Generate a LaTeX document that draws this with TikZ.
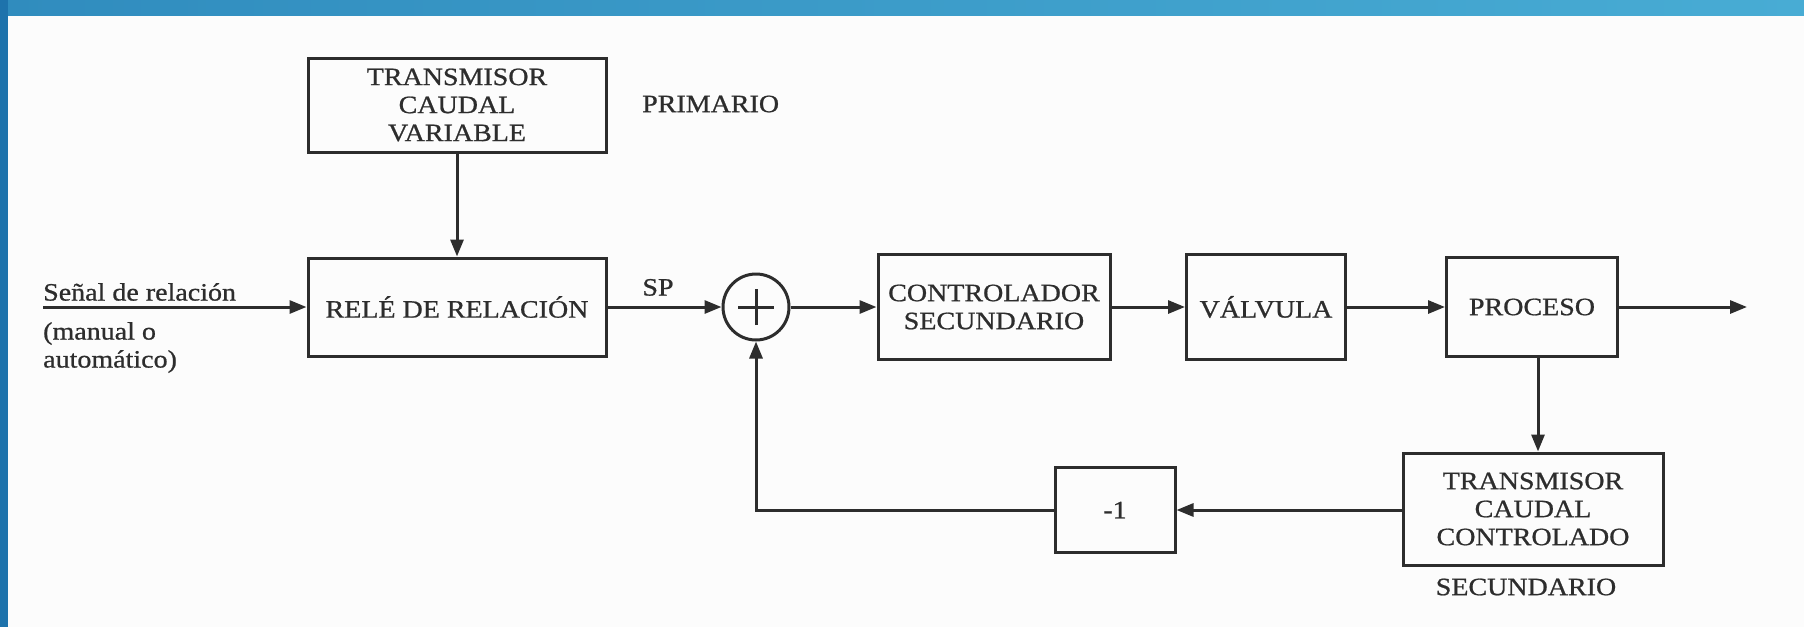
\documentclass[tikz,border=0pt]{standalone}
\usepackage{fontspec}
\setmainfont[FakeStretch=1.12,FakeBold=0.8]{Liberation Serif}
\usetikzlibrary{arrows.meta,positioning,calc}
\definecolor{ink}{RGB}{45,45,45}
\definecolor{bandtopL}{RGB}{48,140,190}
\definecolor{bandtopR}{RGB}{72,172,212}
\definecolor{bandleft}{RGB}{30,115,172}
\definecolor{paper}{RGB}{252,252,252}
\tikzset{
  blk/.style={draw=ink,line width=3pt,rectangle,inner sep=0pt,align=center,text=ink,font=\fontsize{25}{28}\selectfont},
  lbl/.style={text=ink,font=\fontsize{25}{28}\selectfont,inner sep=0pt},
  conn/.style={draw=ink,line width=3pt,-{Triangle[length=17pt,width=13pt]}},
  wire/.style={draw=ink,line width=3pt}
}
\begin{document}
\begin{tikzpicture}[x=1pt,y=1pt]
\useasboundingbox (0,0) rectangle (1804,-627);
\fill[paper] (0,0) rectangle (1804,-627);
\shade[left color=bandtopL,right color=bandtopR] (0,0) rectangle (1804,-15);
\fill[bandleft] (0,0) rectangle (8,-627);

\node[blk,minimum width=298pt,minimum height=94pt] (tcv) at (457,-105) {TRANSMISOR\\CAUDAL\\VARIABLE};
\node[lbl,anchor=west] (prim) at (642,-104) {PRIMARIO};
\node[blk,minimum width=298pt,minimum height=98pt] (rel) at (457,-307) {RELÉ DE RELACIÓN};
\node[draw=ink,line width=3pt,circle,minimum size=66pt,inner sep=0pt] (sum) at (756,-307) {};
\draw[wire] ($(sum.center)+(-18,0)$) -- ($(sum.center)+(18,0)$);
\draw[wire] ($(sum.center)+(0,-18)$) -- ($(sum.center)+(0,18)$);
\node[blk,minimum width=232pt,minimum height=105pt] (ctrl) at (994,-307) {CONTROLADOR\\SECUNDARIO};
\node[blk,minimum width=159pt,minimum height=105pt] (valv) at (1266,-307) {VÁLVULA};
\node[blk,minimum width=171pt,minimum height=99pt] (proc) at (1532,-307) {PROCESO};
\node[blk,minimum width=260pt,minimum height=112pt] (tcc) at (1533,-509) {TRANSMISOR\\CAUDAL\\CONTROLADO};
\node[lbl] (sec) at (1526,-587) {SECUNDARIO};
\node[blk,minimum width=120pt,minimum height=85pt] (neg) at (1115,-510) {-1};

\coordinate (in) at (43,-307);
\coordinate (out) at (1747,-307);
\coordinate (pdown) at ($(proc.south)+(6,0)$);
\node[lbl,anchor=south west] (sen) at (43,-301) {Señal de relación};
\node[lbl,anchor=north west,align=left] (man) at (43,-322) {(manual o\\automático)};
\node[lbl,anchor=south] (sp) at (658,-296) {SP};

\draw[conn] (tcv) -- (rel);
\draw[conn] (in) -- (rel.west);
\draw[conn] (rel.east) -- (sum.west);
\draw[conn] (sum.east) -- (ctrl.west);
\draw[conn] (ctrl.east) -- (valv.west);
\draw[conn] (valv.east) -- (proc.west);
\draw[conn] (proc.east) -- (out);
\draw[conn] (pdown) -- (pdown |- tcc.north);
\draw[conn] (tcc.west |- neg.east) -- (neg.east);
\draw[conn] (neg.west) -| (sum.south);
\end{tikzpicture}
\end{document}
